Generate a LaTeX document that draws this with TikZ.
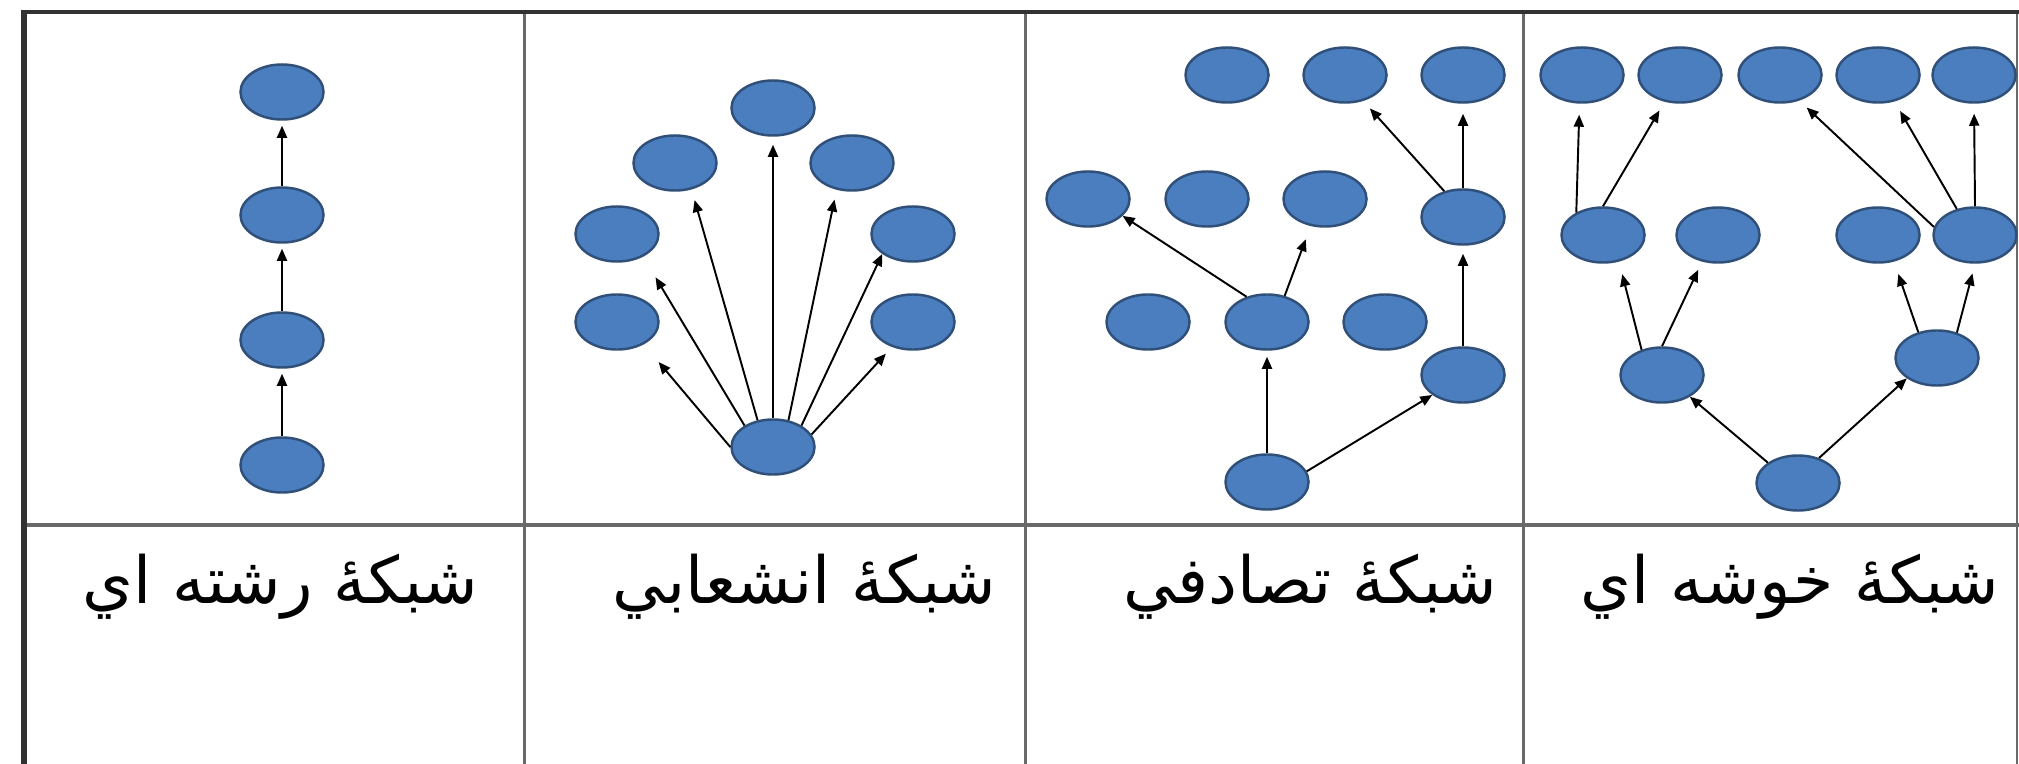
\documentclass[tikz,border=0pt]{standalone}
\usepackage{fontspec}
\usetikzlibrary{arrows.meta,shapes.geometric}
\newfontfamily\arabicfont[Script=Arabic]{DejaVu Sans}
\TeXXeTstate=1
\definecolor{nodefill}{RGB}{74,126,190}
\definecolor{nodeline}{RGB}{48,80,122}
\definecolor{rulegray}{RGB}{105,105,105}
\definecolor{ruledark}{RGB}{50,50,50}
\begin{document}
\begin{tikzpicture}[x=0.01cm,y=-0.01cm,
  nd/.style={ellipse, fill=nodefill, draw=nodeline, line width=0.7pt, minimum width=0.83cm, minimum height=0.55cm, inner sep=0pt},
  arr/.style={-{Triangle[length=0.12cm,width=0.1cm]}, line width=0.55pt, black},
  lbl/.style={anchor=base east, font=\arabicfont\fontsize{18.5}{22}\selectfont, inner sep=0pt}]
\useasboundingbox[fill=white] (0,0) rectangle (2019,764);
% table rules
\draw[rulegray, line width=0.85pt] (524,12) -- (524,764);
\draw[rulegray, line width=0.85pt] (1025,12) -- (1025,764);
\draw[rulegray, line width=0.85pt] (1523,12) -- (1523,764);
\draw[rulegray, line width=0.6pt] (2017,12) -- (2017,764);
\draw[rulegray, line width=1.1pt] (24,525) -- (2030,525);
\draw[ruledark, line width=1.7pt] (24,764) -- (24,12);
\draw[ruledark, line width=1.2pt] (21,12) -- (2030,12);
% chain
\node[nd] (c1) at (282,92) {};
\node[nd] (c2) at (282,215) {};
\node[nd] (c3) at (282,340) {};
\node[nd] (c4) at (282,465) {};
\draw[arr, shorten >=0.05cm] (c4.north) -- (c3.south);
\draw[arr, shorten >=0.05cm] (c3.north) -- (c2.south);
\draw[arr, shorten >=0.05cm] (c2.north) -- (c1.south);
% fan
\node[nd] (ft) at (773,108) {};
\node[nd] (ful) at (675,163) {};
\node[nd] (fur) at (852,163) {};
\node[nd] (fml) at (617,234) {};
\node[nd] (fmr) at (913,234) {};
\node[nd] (fll) at (617,322) {};
\node[nd] (flr) at (913,322) {};
\node[nd] (fb) at (773,447) {};
\draw[arr, shorten >=0.23cm] (fb.180) -- (fll.-40);
\draw[arr, shorten >=0.24cm] (fb.143) -- (fml.-41);
\draw[arr, shorten >=0.11cm] (fb.120) -- (ful.-58);
\draw[arr, shorten >=0.08cm] (fb.north) -- (ft.south);
\draw[arr, shorten >=0.10cm] (fb.60) -- (fur.-120);
\draw[arr] (fb.37) -- (fmr.-147);
\draw[arr, shorten >=0.09cm] (fb.18) -- (flr.-130);
% random
\node[nd] (ra) at (1227,75) {};
\node[nd] (rb) at (1345,75) {};
\node[nd] (rc) at (1463,75) {};
\node[nd] (rd) at (1088,199) {};
\node[nd] (re) at (1207,199) {};
\node[nd] (rf) at (1325,199) {};
\node[nd] (rg) at (1463,217) {};
\node[nd] (rh) at (1148,322) {};
\node[nd] (ri) at (1267,322) {};
\node[nd] (rj) at (1385,322) {};
\node[nd] (rk) at (1463,375) {};
\node[nd] (rl) at (1267,482) {};
\draw[arr, shorten >=0.06cm] (rl.north) -- (ri.south);
\draw[arr] (rl.15) -- (rk.213);
\draw[arr, shorten >=0.08cm] (rk.north) -- (rg.south);
\draw[arr, shorten >=0.10cm] (rg.north) -- (rc.south);
\draw[arr, shorten >=0.10cm] (rg.126) -- (rb.-55);
\draw[arr] (ri.129) -- (rd.-26);
\draw[arr, shorten >=0.14cm] (ri.56) -- (rf.-118);
% cluster
\node[nd] (ka) at (1582,75) {};
\node[nd] (kb) at (1680,75) {};
\node[nd] (kc) at (1780,75) {};
\node[nd] (kd) at (1878,75) {};
\node[nd] (ke) at (1974,75) {};
\node[nd] (kf) at (1603,235) {};
\node[nd] (kg) at (1718,235) {};
\node[nd] (kh) at (1878,235) {};
\node[nd] (ki) at (1975,235) {};
\node[nd] (kj) at (1662,375) {};
\node[nd] (kk) at (1937,358) {};
\node[nd] (kl) at (1798,483) {};
\draw[arr] (kl.146) -- (kj.-38);
\draw[arr] (kl.50) -- (kk.214);
\draw[arr, shorten >=0.13cm] (kj.129) -- (kf.-59);
\draw[arr, shorten >=0.09cm] (kj.north) -- (kg.-121);
\draw[arr, shorten >=0.13cm] (kk.126) -- (kh.-59);
\draw[arr, shorten >=0.10cm] (kk.52) -- (ki.south);
\draw[arr, shorten >=0.11cm] (kf.140) -- (ka.-95);
\draw[arr, shorten >=0.10cm] (kf.north) -- (kb.-120);
\draw[arr, shorten >=0.10cm] (ki.169) -- (kc.-53);
\draw[arr, shorten >=0.11cm] (ki.125) -- (kd.-58);
\draw[arr, shorten >=0.10cm] (ki.north) -- (ke.south);
% labels
\node[lbl] (t1) at (479,603) {\beginR شبكهٔ رشته اي\endR};
\node[lbl] (t2) at (997,603) {\beginR شبكهٔ انشعابي\endR};
\node[lbl] (t3) at (1498,603) {\beginR شبكهٔ تصادفي\endR};
\node[lbl] (t4) at (2000,603) {\beginR شبكهٔ خوشه اي\endR};
\end{tikzpicture}
\end{document}
